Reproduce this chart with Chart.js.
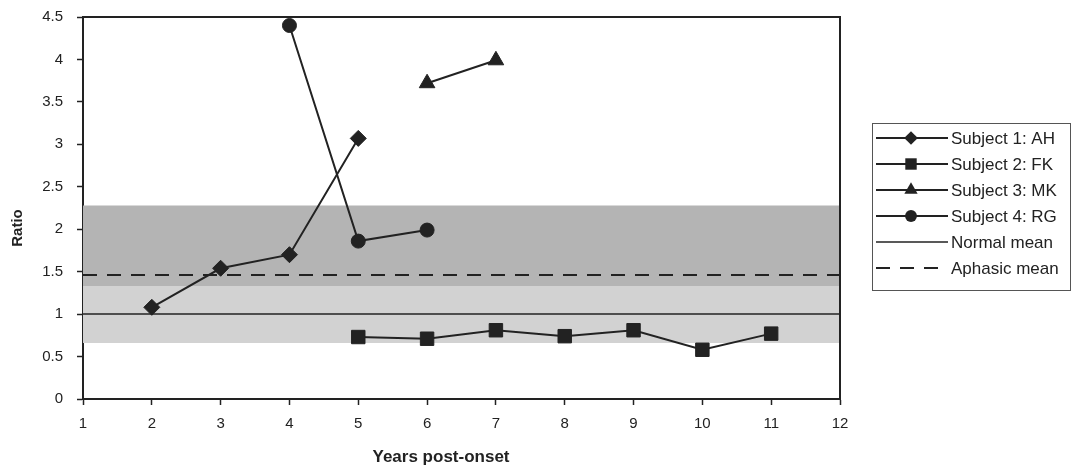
<!DOCTYPE html>
<html>
<head>
<meta charset="utf-8">
<script src="https://cdn.jsdelivr.net/npm/chart.js@4/dist/chart.umd.min.js"></script>
<style>
  html, body { margin: 0; padding: 0; background: #fff; }
  #wrap { width: 1073px; height: 466px; }
</style>
</head>
<body>
<div id="wrap"><canvas id="myChart"></canvas></div>
<script>
// values
var ahYears = [2, 3, 4, 5];
var ahRatio = [1.08, 1.54, 1.70, 3.07];

var fkYears = [5, 6, 7, 8, 9, 10, 11];
var fkRatio = [0.73, 0.71, 0.81, 0.74, 0.81, 0.58, 0.77];

var mkYears = [6, 7];
var mkRatio = [3.72, 3.99];

var rgYears = [4, 5, 6];
var rgRatio = [4.40, 1.86, 1.99];

var meanYears = [1, 12];
var normalMean = 1.0;
var aphasicMean = 1.46;

// shaded ranges (upper, lower)
var aphasicBand = [2.28, 1.33];
var normalBand = [1.33, 0.66];

var xTicks = [1, 2, 3, 4, 5, 6, 7, 8, 9, 10, 11, 12];
var yTicks = [0, 0.5, 1, 1.5, 2, 2.5, 3, 3.5, 4, 4.5];

var ink = '#222';
var font = 'Liberation Sans, Arial, sans-serif';

function pts(xs, ys) {
  return xs.map(function (x, i) { return { x: x, y: ys[i] }; });
}
function flat(xs, v) {
  return xs.map(function (x) { return { x: x, y: v }; });
}

function subject(label, xs, ys, style, r) {
  return {
    label: label,
    data: pts(xs, ys),
    borderColor: ink,
    backgroundColor: ink,
    borderWidth: 2,
    pointStyle: style,
    pointRadius: r,
    pointBorderWidth: 1,
    pointBackgroundColor: ink,
    pointBorderColor: ink,
    showLine: true,
    fill: false,
    order: 0,
    inLegend: true
  };
}

var datasets = [
  subject('Subject 1: AH', ahYears, ahRatio, 'rectRot', 8),
  subject('Subject 2: FK', fkYears, fkRatio, 'rect', 9.5),
  subject('Subject 3: MK', mkYears, mkRatio, 'triangle', 9),
  subject('Subject 4: RG', rgYears, rgRatio, 'circle', 7),
  {
    label: 'Normal mean',
    data: flat(meanYears, normalMean),
    borderColor: ink, borderWidth: 1.5, pointRadius: 0, showLine: true, fill: false,
    order: 1, inLegend: true
  },
  {
    label: 'Aphasic mean',
    data: flat(meanYears, aphasicMean),
    borderColor: ink, borderWidth: 2, borderDash: [14, 10], pointRadius: 0, showLine: true, fill: false,
    order: 1, inLegend: true
  },
  {
    label: 'band1',
    data: flat(meanYears, aphasicBand[0]),
    borderWidth: 0, pointRadius: 0, showLine: true,
    backgroundColor: 'rgb(180,180,180)',
    fill: { value: aphasicBand[1] },
    order: 5
  },
  {
    label: 'band2',
    data: flat(meanYears, normalBand[0]),
    borderWidth: 0, pointRadius: 0, showLine: true,
    backgroundColor: 'rgb(210,210,210)',
    fill: { value: normalBand[1] },
    order: 5
  }
];

// legend markers, sized like Chart.js draws them
function drawMarker(ctx, style, x, y, r) {
  ctx.beginPath();
  if (style === 'rectRot') {
    ctx.moveTo(x, y - r); ctx.lineTo(x + r, y); ctx.lineTo(x, y + r); ctx.lineTo(x - r, y);
  } else if (style === 'rect') {
    var s = r * Math.SQRT1_2;
    ctx.rect(x - s, y - s, 2 * s, 2 * s);
  } else if (style === 'triangle') {
    ctx.moveTo(x, y - r); ctx.lineTo(x + r * 0.87, y + r * 0.5); ctx.lineTo(x - r * 0.87, y + r * 0.5);
  } else {
    ctx.arc(x, y, r, 0, Math.PI * 2);
  }
  ctx.closePath();
  ctx.fill();
}

var extras = {
  id: 'extras',
  afterDraw: function (chart) {
    var ctx = chart.ctx;
    var a = chart.chartArea;
    ctx.save();
    // top and right frame
    ctx.strokeStyle = ink;
    ctx.lineWidth = 2;
    ctx.beginPath();
    ctx.moveTo(a.left, a.top); ctx.lineTo(a.right, a.top); ctx.lineTo(a.right, a.bottom);
    ctx.stroke();

    // axis titles
    ctx.fillStyle = ink;
    ctx.textAlign = 'center';
    ctx.textBaseline = 'middle';
    ctx.font = 'bold 17px ' + font;
    ctx.fillText('Years post-onset', 441, 457);
    ctx.save();
    ctx.translate(18, 228);
    ctx.rotate(-Math.PI / 2);
    ctx.font = 'bold 15px ' + font;
    ctx.fillText('Ratio', 0, 0);
    ctx.restore();

    // legend
    var lx = 872, ly = 123, lw = 198, lh = 167;
    ctx.lineWidth = 1;
    ctx.strokeStyle = '#555';
    ctx.strokeRect(lx + 0.5, ly + 0.5, lw, lh);
    ctx.font = '17px ' + font;
    ctx.textAlign = 'left';
    var row = 0;
    chart.data.datasets.forEach(function (ds) {
      if (!ds.inLegend) return;
      var y = ly + 15 + row * 26;
      ctx.strokeStyle = ink;
      ctx.lineWidth = ds.borderWidth || 1.5;
      ctx.setLineDash(ds.borderDash || []);
      ctx.beginPath();
      ctx.moveTo(lx + 4, y); ctx.lineTo(lx + 76, y);
      ctx.stroke();
      ctx.setLineDash([]);
      if (ds.pointStyle) drawMarker(ctx, ds.pointStyle, lx + 39, y, ds.pointRadius * 0.85);
      ctx.fillStyle = ink;
      ctx.fillText(ds.label, lx + 79, y + 1);
      row++;
    });
    ctx.restore();
  }
};

var ctx = document.getElementById('myChart').getContext('2d');
var myChart = new Chart(ctx, {
  type: 'scatter',
  data: { datasets: datasets },
  plugins: [extras],
  options: {
    responsive: true,
    maintainAspectRatio: false,
    animation: false,
    layout: { padding: { top: 17, right: 233, left: 0, bottom: 0 } },
    plugins: {
      legend: { display: false },
      tooltip: { enabled: false }
    },
    scales: {
      x: {
        type: 'linear',
        min: 1, max: 12,
        afterBuildTicks: function (s) { s.ticks = xTicks.map(function (v) { return { value: v }; }); },
        afterFit: function (s) { s.height = 67; s.paddingLeft = 0; s.paddingRight = 0; },
        grid: { drawOnChartArea: false, drawTicks: true, tickLength: 6, color: ink, tickWidth: 1.5 },
        border: { color: ink, width: 2 },
        ticks: { color: ink, font: { family: font, size: 15 }, padding: 10, maxRotation: 0 }
      },
      y: {
        min: 0, max: 4.5,
        afterBuildTicks: function (s) { s.ticks = yTicks.map(function (v) { return { value: v }; }); },
        afterFit: function (s) { s.width = 83; s.paddingTop = 0; s.paddingBottom = 0; },
        grid: { drawOnChartArea: false, drawTicks: true, tickLength: 6, color: ink, tickWidth: 1.5 },
        border: { color: ink, width: 2 },
        ticks: {
          color: ink, font: { family: font, size: 15 }, padding: 14,
          callback: function (v) { return String(v); }
        }
      }
    }
  }
});
</script>
</body>
</html>
